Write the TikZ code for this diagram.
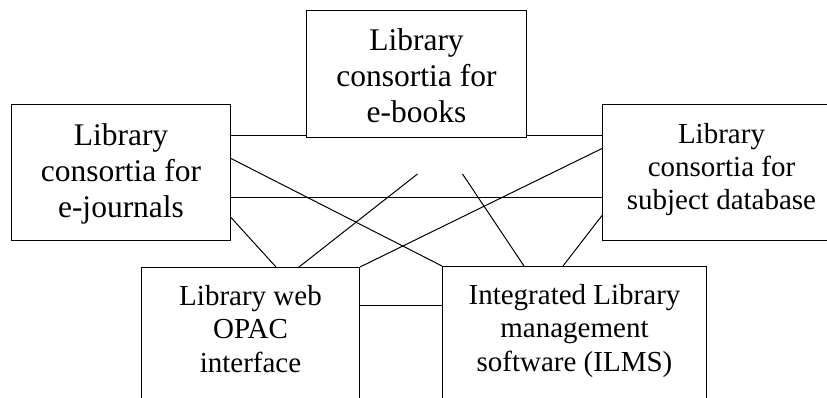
\documentclass[tikz,border=0pt]{standalone}
\usepackage{fontspec}
\setmainfont{Liberation Serif}
\usetikzlibrary{calc}
\begin{document}
\begin{tikzpicture}[x=1pt,y=-1pt,
  box/.style={draw, line width=1pt, rectangle, inner sep=0pt, anchor=north west},
  bigtext/.style={font=\fontsize{31.5}{36}\selectfont, align=center, inner sep=0pt, anchor=north},
  smalltext/.style={font=\fontsize{29}{33.5}\selectfont, align=center, inner sep=0pt, anchor=north},
  link/.style={line width=1pt}]
\useasboundingbox (0,0) rectangle (827,398);
\clip (0,0) rectangle (827,398);
% boxes
\node[box, minimum width=220pt, minimum height=127pt] (B) at (306,10) {};
\node[box, minimum width=219pt, minimum height=136pt] (J) at (11,104) {};
\node[box, minimum width=238pt, minimum height=136pt] (S) at (602,104) {};
\node[box, minimum width=218pt, minimum height=200pt] (O) at (141,267) {};
\node[box, minimum width=264pt, minimum height=200pt] (I) at (442,266) {};
% texts
\node[bigtext] (Bt) at ([yshift=-18.5pt]B.north) {Library\\consortia for\\e-books};
\node[bigtext] (Jt) at ([yshift=-19.5pt]J.north) {Library\\consortia for\\e-journals};
\node[smalltext, font=\fontsize{29}{33}\selectfont] (St) at ([yshift=-19pt]S.north) {Library\\consortia for\\subject database};
\node[smalltext] (Ot) at ([yshift=-18pt]O.north) {Library web\\OPAC\\interface};
\node[smalltext] (It) at ([yshift=-18pt]I.north) {Integrated Library\\management\\software (ILMS)};
% helper coordinates
\coordinate (a1) at ([yshift=2pt]B.south west);
\coordinate (a2) at ([yshift=2pt]B.south east);
\coordinate (a3) at ([yshift=-25pt]J.east);
\coordinate (a4) at ([yshift=-38pt]O.north east);
\coordinate (f1) at ([xshift=1pt,yshift=-36pt]B.south);
\coordinate (f2) at ([xshift=46pt,yshift=-36pt]B.south);
% connectors
\draw[link] (J.east |- a1) -- (a1);
\draw[link] (a2) -- (a2 -| S.west);
\draw[link] (a3) -- (a3 -| S.west);
\draw[link] (a4) -- (a4 -| I.west);
\draw[link] ([yshift=14pt]J.east) -- (I.north west);
\draw[link] ([yshift=-45pt]J.east) -- ([xshift=135pt]O.north west);
\draw[link] ([xshift=158pt]O.north west) -- (f1);
\draw[link] (f2) -- ([xshift=82pt]I.north west);
\draw[link] (O.north east) -- ([yshift=24pt]S.west);
\draw[link] ([xshift=121pt]I.north west) -- ([yshift=-43pt]S.west);
\end{tikzpicture}
\end{document}
